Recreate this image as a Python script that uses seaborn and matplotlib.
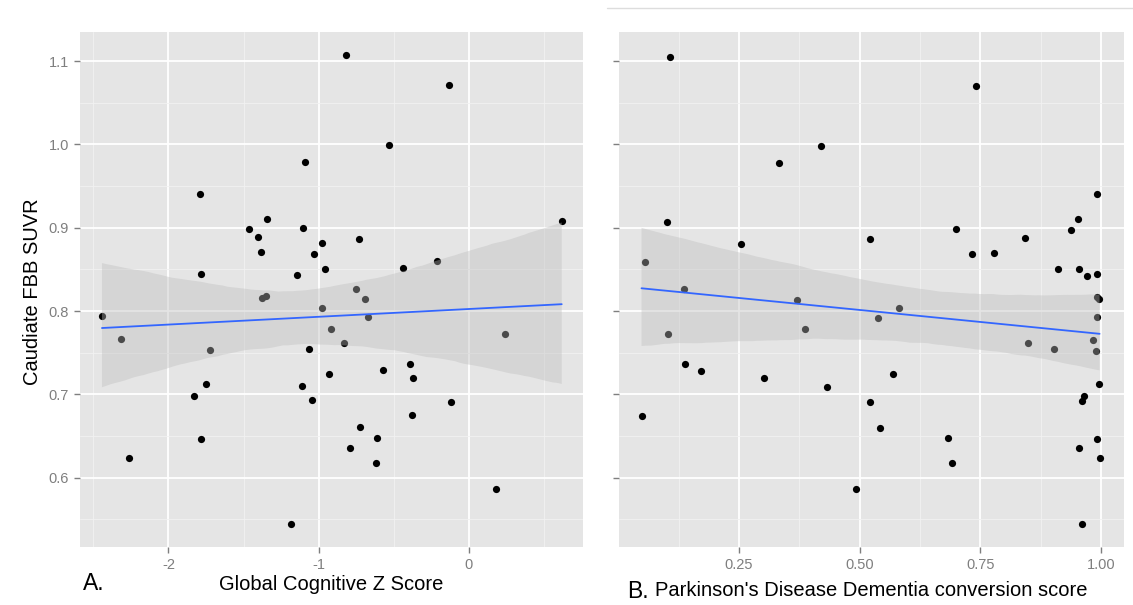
import matplotlib
matplotlib.use("Agg")
import matplotlib.pyplot as plt
from matplotlib.lines import Line2D
from matplotlib.ticker import FixedLocator
from matplotlib.collections import PolyCollection
import seaborn as sns

# Panel A: global cognitive z score vs caudate SUVR
global_z = [-2.442, -2.313, -2.262, -1.792, -1.781, -1.832, -1.752, -1.781, -1.721, -1.462,
            -1.402, -1.342, -1.382, -1.379, -1.353, -1.142, -1.091, -1.102, -1.113, -1.063,
            -1.031, -0.980, -0.960, -0.980, -1.043, -1.182, -0.920, -0.933, -0.820, -0.732,
            -0.752, -0.692, -0.672, -0.834, -0.723, -0.792, -0.612, -0.621, -0.572, -0.532,
            -0.441, -0.393, -0.373, -0.381, -0.213, -0.131, -0.122, 0.178, 0.238, 0.617]
suvr_z = [0.794, 0.766, 0.624, 0.940, 0.845, 0.698, 0.712, 0.647, 0.753, 0.898,
          0.889, 0.911, 0.871, 0.816, 0.818, 0.843, 0.979, 0.900, 0.710, 0.755,
          0.868, 0.882, 0.851, 0.804, 0.693, 0.544, 0.778, 0.725, 1.107, 0.887,
          0.827, 0.814, 0.793, 0.762, 0.661, 0.636, 0.648, 0.618, 0.729, 0.999,
          0.852, 0.737, 0.720, 0.675, 0.860, 1.071, 0.691, 0.586, 0.772, 0.908]

# Panel B: PDD conversion score vs caudate SUVR
pdd_score = [0.107, 0.419, 0.333, 0.101, 0.254, 0.055, 0.522, 0.740, 0.991, 0.952,
             0.937, 0.700, 0.843, 0.733, 0.778, 0.910, 0.955, 0.971, 0.992, 0.136,
             0.370, 0.103, 0.386, 0.138, 0.171, 0.301, 0.432, 0.521, 0.048, 0.492,
             0.992, 0.996, 0.581, 0.537, 0.992, 0.849, 0.903, 0.984, 0.990, 0.570,
             0.996, 0.965, 0.960, 0.542, 0.682, 0.691, 0.992, 0.954, 0.997, 0.961]
suvr_pdd = [1.105, 0.998, 0.978, 0.907, 0.881, 0.859, 0.886, 1.070, 0.940, 0.910,
            0.897, 0.898, 0.888, 0.868, 0.870, 0.851, 0.850, 0.842, 0.844, 0.826,
            0.813, 0.772, 0.778, 0.736, 0.728, 0.720, 0.709, 0.691, 0.674, 0.586,
            0.817, 0.815, 0.804, 0.792, 0.793, 0.762, 0.755, 0.765, 0.752, 0.724,
            0.712, 0.698, 0.692, 0.660, 0.648, 0.618, 0.647, 0.636, 0.624, 0.544]

y_ticks = [0.6, 0.7, 0.8, 0.9, 1.0, 1.1]
y_tick_labels = ["0.6", "0.7", "0.8", "0.9", "1.0", "1.1"]
y_minor = [0.55, 0.65, 0.75, 0.85, 0.95, 1.05]
z_ticks = [-2, -1, 0]
z_tick_labels = ["-2", "-1", "0"]
z_minor = [-2.5, -1.5, -0.5, 0.5]
pdd_ticks = [0.25, 0.50, 0.75, 1.00]
pdd_tick_labels = ["0.25", "0.50", "0.75", "1.00"]
pdd_minor = [0.125, 0.375, 0.625, 0.875]

y_label = "Caudiate FBB SUVR"
x_label_a = "Global Cognitive Z Score"
x_label_b = "Parkinson's Disease Dementia conversion score"

sns.set_theme(style="darkgrid")
plt.rcParams["font.family"] = ["Liberation Sans", "DejaVu Sans"]

W, H = 1133, 605
fig = plt.figure(figsize=(W / 100, H / 100), dpi=100)


def px_axes(x0, x1, y_top, y_bot):
    return fig.add_axes([x0 / W, 1 - y_bot / H, (x1 - x0) / W, (y_bot - y_top) / H])


ax_a = px_axes(79.6, 583, 32, 547.3)
ax_b = px_axes(619.3, 1124, 32, 547.3)


def draw_panel(ax, x, y, seed):
    sns.regplot(x=x, y=y, ax=ax, ci=95, n_boot=2000, seed=seed, truncate=True,
                color="black",
                scatter_kws=dict(s=27, color="black", linewidths=0, alpha=1),
                line_kws=dict(color="#3366FF", lw=1.3))
    for coll in ax.collections:
        if isinstance(coll, PolyCollection):
            coll.set_facecolor("#BDBDBD")
            coll.set_edgecolor("none")
            coll.set_alpha(0.4)


def style_panel(ax, xticks, xlabels, xminor, xlim, show_ylabels):
    ax.set_facecolor("#E5E5E5")
    for s in ax.spines.values():
        s.set_visible(False)
    ax.set_xlim(*xlim)
    ax.set_ylim(0.5165, 1.1349)
    ax.set_xticks(xticks)
    ax.set_xticklabels(xlabels)
    ax.set_yticks(y_ticks)
    ax.set_yticklabels(y_tick_labels if show_ylabels else [])
    ax.xaxis.set_minor_locator(FixedLocator(xminor))
    ax.yaxis.set_minor_locator(FixedLocator(y_minor))
    ax.grid(which="major", color="white", lw=1.3)
    ax.grid(which="minor", color="#F2F2F2", lw=0.6)
    ax.tick_params(which="major", bottom=True, left=True, length=4.5, width=1.0,
                   color="#7F7F7F", labelcolor="#7F7F7F", labelsize=10.5, pad=3)
    ax.tick_params(which="minor", bottom=False, left=False, length=0)
    ax.set_axisbelow(True)
    ax.set_xlabel("")
    ax.set_ylabel("")


draw_panel(ax_a, global_z, suvr_z, 11)
draw_panel(ax_b, pdd_score, suvr_pdd, 5)
style_panel(ax_a, z_ticks, z_tick_labels, z_minor, (-2.5908, 0.7585), True)
style_panel(ax_b, pdd_ticks, pdd_tick_labels, pdd_minor, (0.002, 1.0476), False)

fig.text(33 / W, 1 - 291.5 / H, y_label, rotation=90, ha="center", va="center",
         fontsize=14.5, color="black")
fig.text(331.3 / W, 1 - 590 / H, x_label_a, ha="center", va="baseline",
         fontsize=14.5, color="black")
fig.text(871 / W, 1 - 596 / H, x_label_b, ha="center", va="baseline",
         fontsize=14.5, color="black")
fig.text(83.3 / W, 1 - 590 / H, "A.", ha="left", va="baseline", fontsize=16.5, color="black")
fig.text(627.6 / W, 1 - 598 / H, "B.", ha="left", va="baseline", fontsize=16.5, color="black")

fig.add_artist(Line2D([607 / W, 1.0], [1 - 8 / H, 1 - 8 / H], color="#DDDDDD", lw=1,
                      transform=fig.transFigure))

fig.savefig("out.png", dpi=100, facecolor="white")
